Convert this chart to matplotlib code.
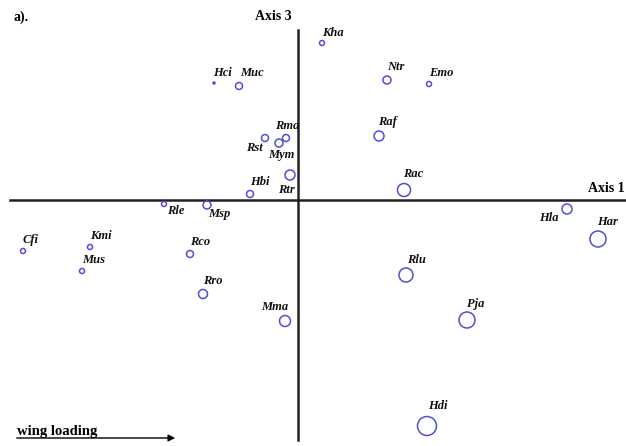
import matplotlib
matplotlib.use("Agg")
import matplotlib.pyplot as plt

plt.rcParams['font.family'] = ['Liberation Serif', 'DejaVu Serif']

# species codes, ordination scores (axis 1, axis 3) and relative body size
species = ["Kha", "Ntr", "Emo", "Hci", "Muc", "Raf", "Rma", "Rst", "Mym", "Rtr",
           "Rac", "Hbi", "Rle", "Msp", "Hla", "Har", "Cfi", "Kmi", "Rco", "Mus",
           "Rlu", "Rro", "Mma", "Pja", "Hdi"]
axis1 = [0.24, 0.89, 1.31, -0.84, -0.59, 0.81, -0.12, -0.33, -0.19, -0.08,
         1.06, -0.48, -1.34, -0.91, 2.69, 3.00, -2.75, -2.08, -1.08, -2.16,
         1.08, -0.95, -0.13, 1.69, 1.29]
axis3 = [1.57, 1.20, 1.16, 1.17, 1.14, 0.64, 0.62, 0.62, 0.57, 0.25,
         0.10, 0.06, -0.04, -0.05, -0.09, -0.39, -0.51, -0.47, -0.54, -0.71,
         -0.75, -0.94, -1.21, -1.20, -2.26]
body_size = [2.5, 4, 2.5, 1, 3.5, 5, 3.5, 3.5, 4, 5,
             6.5, 3.5, 2.5, 4, 5, 8, 2.5, 2.5, 3.5, 2.5,
             7, 4.5, 5.5, 8, 9.5]

# label offsets in pixels from each point
offsets = {
    "Kha": (0, 10), "Ntr": (0, 13), "Emo": (0, 11), "Hci": (-1, 10),
    "Muc": (1, 13), "Raf": (-1, 14), "Rac": (-1, 16), "Rma": (-11, 12),
    "Rst": (-19, -10), "Mym": (-11, -12), "Hbi": (0, 12), "Rtr": (-12, -15),
    "Rle": (3, -7), "Msp": (1, -9), "Hla": (-28, -9), "Har": (-1, 17),
    "Cfi": (0, 11), "Kmi": (0, 11), "Mus": (0, 11), "Rco": (0, 12),
    "Rro": (0, 13), "Mma": (-24, 14), "Rlu": (1, 15), "Pja": (0, 16),
    "Hdi": (1, 20),
}

fig = plt.figure(figsize=(6.26, 4.46), dpi=100)
ax = fig.add_axes([0, 0, 1, 1])
ax.set_xlim(-2.98, 3.28)
ax.set_ylim(-2.46, 2.00)
ax.axis('off')

# axes through the origin
ax.plot([-2.88, 3.28], [0, 0], color='#222222', lw=1.8)
ax.plot([0, 0], [-2.40, 1.70], color='#222222', lw=1.8)

sizes = [(1.44 * r) ** 2 for r in body_size]
ax.scatter(axis1, axis3, s=sizes, facecolors='none', edgecolors='#4f4fd6',
           linewidths=1.1, zorder=3)

for name, x, y in zip(species, axis1, axis3):
    dx, dy = offsets[name]
    ax.annotate(name, (x, y), xytext=(dx, dy), textcoords='offset pixels',
                ha='left', va='center', fontsize=9, fontweight='bold',
                fontstyle='italic', color='#111111')

ax.text(-0.06, 1.84, "Axis 3", ha='right', va='center', fontsize=10,
        fontweight='bold')
ax.text(3.27, 0.12, "Axis 1", ha='right', va='center', fontsize=10,
        fontweight='bold')
ax.text(-2.85, 1.83, "a).", ha='left', va='center', fontsize=10,
        fontweight='bold')

# wing loading direction
ax.annotate("", xy=(-1.20, -2.38), xytext=(-2.84, -2.38),
            arrowprops=dict(arrowstyle='-|>', color='black', lw=1.0,
                            mutation_scale=10))
ax.text(-2.81, -2.31, "wing loading", ha='left', va='center', fontsize=10.5,
        fontweight='bold')

fig.savefig("out.png", dpi=100)
